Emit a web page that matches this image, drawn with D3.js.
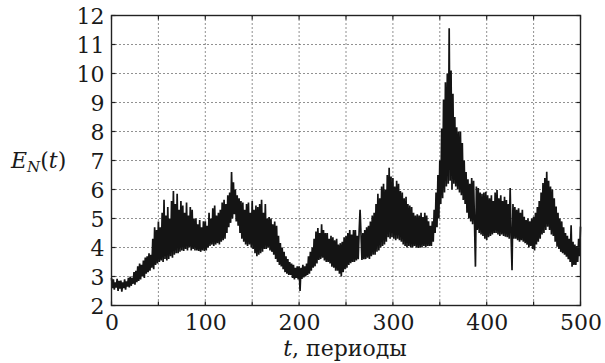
<!DOCTYPE html>
<html>
<head>
<meta charset="utf-8">
<script src="https://cdn.jsdelivr.net/npm/d3@7"></script>
<style>
  html, body { margin: 0; padding: 0; background: #fff; }
  svg { display: block; }
  text { font-family: "DejaVu Serif", serif; fill: #1a1a1a; }
</style>
</head>
<body>
<svg id="chart" width="605" height="363"></svg>
<script>
// Energy E_N(t) sampled once per period, t = 0 … 500
const energy = [
  2.95,2.6,2.9,2.55,2.8,2.62,2.92,2.5,2.85,2.58,
  2.86,2.48,2.8,2.6,2.9,2.55,2.83,2.65,2.95,2.62,
  3.0,2.68,2.95,2.75,3.15,2.72,3.2,2.8,3.35,2.85,
  3.45,2.9,3.4,3.0,3.55,2.95,3.65,3.1,3.7,3.15,
  3.8,3.2,3.75,3.3,4.3,3.25,4.7,3.4,4.6,3.45,
  4.9,3.5,4.7,3.55,5.2,3.5,5.65,3.6,5.1,3.55,
  5.4,3.6,5.0,3.7,5.6,3.65,5.95,3.75,5.5,3.8,
  5.85,3.8,5.3,3.85,5.6,3.9,5.45,3.88,5.2,3.95,
  5.55,3.9,5.1,4.0,5.4,3.9,5.3,3.95,5.0,3.9,
  5.0,3.9,4.8,3.88,4.95,3.85,4.7,3.9,4.9,3.88,
  4.9,3.9,4.75,4.0,5.2,4.05,5.0,4.1,5.35,4.05,
  5.45,4.1,5.1,4.15,5.2,4.1,5.3,4.2,5.55,4.25,
  5.65,4.3,5.5,4.5,5.8,4.7,5.9,4.85,6.6,5.0,
  6.25,5.15,6.0,4.9,5.8,4.75,5.7,4.5,5.6,4.3,
  5.55,4.2,5.3,4.1,5.5,4.05,5.55,4.1,5.2,4.0,
  5.6,3.95,5.3,3.8,5.45,3.7,5.4,3.75,5.5,3.8,
  5.65,3.85,5.2,3.95,5.5,3.95,5.0,4.0,5.05,3.9,
  5.0,3.85,4.8,3.75,4.9,3.6,4.75,3.5,4.4,3.4,
  4.15,3.35,4.0,3.25,3.85,3.15,3.7,3.1,3.6,3.05,
  3.5,3.05,3.45,2.95,3.4,2.9,3.3,2.95,3.35,2.9,
  3.35,2.5,3.3,2.92,3.4,2.97,3.35,3.0,3.45,3.05,
  3.7,3.1,3.85,3.2,4.0,3.3,4.3,3.35,4.55,3.45,
  4.67,3.57,4.5,3.6,4.8,3.65,4.6,3.55,4.5,3.5,
  4.5,3.5,4.3,3.45,4.4,3.34,4.35,3.3,4.25,3.2,
  4.3,3.2,4.1,3.1,4.15,3.0,4.2,3.15,4.35,3.25,
  4.4,3.3,4.5,3.4,4.6,3.46,4.45,3.5,4.6,3.5,
  4.6,3.55,4.4,3.6,4.55,5.3,4.45,3.57,4.5,3.6,
  4.6,3.6,4.7,3.65,4.75,3.6,4.9,3.7,5.1,3.75,
  5.2,3.75,5.5,3.85,5.85,3.9,5.7,4.0,6.1,4.05,
  6.2,4.1,6.0,4.2,6.5,4.35,6.75,4.3,6.45,4.35,
  6.4,4.3,6.1,4.25,6.3,4.3,6.2,4.25,5.95,4.2,
  5.9,4.1,5.7,4.05,5.75,4.0,5.5,4.05,5.45,4.0,
  5.4,4.0,5.2,4.05,5.1,4.0,5.15,3.98,5.1,4.0,
  5.2,4.0,5.05,4.05,5.2,4.0,5.1,4.05,4.9,4.05,
  4.75,4.05,4.9,4.2,5.3,4.5,5.9,4.7,6.5,5.0,
  7.0,5.5,8.1,5.7,9.1,5.9,9.7,6.1,10.0,6.2,
  11.56,6.3,10.1,6.0,9.3,6.2,8.5,6.1,8.15,6.0,
  8.0,5.9,8.0,5.8,7.6,5.64,7.0,5.5,6.6,5.2,
  6.35,5.0,6.2,4.9,6.4,4.8,6.3,4.85,3.34,6.1,
  4.6,6.05,4.5,5.9,4.45,5.85,4.4,5.9,4.3,5.92,
  4.26,5.8,4.35,5.7,4.4,5.8,4.45,5.6,4.5,5.9,
  4.5,5.98,4.45,5.7,4.4,5.8,4.45,5.6,4.4,5.75,
  4.37,5.64,4.35,5.5,4.3,6.05,4.4,3.22,5.5,4.3,
  5.4,4.3,5.3,4.25,5.35,4.2,5.2,4.25,5.3,4.2,
  5.06,4.15,4.95,4.1,5.0,4.0,4.9,4.05,5.0,3.95,
  5.06,3.9,5.2,4.1,5.4,4.2,5.6,4.3,5.9,4.45,
  6.22,4.5,6.4,4.6,6.61,4.72,6.3,4.6,6.1,4.45,
  6.0,4.4,5.7,4.2,5.41,4.03,5.2,3.95,5.0,3.85,
  4.9,3.8,4.7,3.75,4.5,3.68,4.4,3.6,4.3,3.5,
  4.77,3.34,4.2,3.4,4.1,3.4,4.05,3.5,4.3,3.7,4.72
];
const periods = energy.map((_, i) => i);

const xTickValues = [0, 100, 200, 300, 400, 500];
const xGridValues = [50, 100, 150, 200, 250, 300, 350, 400, 450];
const yTickValues = [2, 3, 4, 5, 6, 7, 8, 9, 10, 11, 12];

const svg = d3.select("#chart");
const margin = { left: 111.5, right: 24.5, top: 15.5, bottom: 57.5 };
const W = 605, H = 363;
const innerW = W - margin.left - margin.right;
const innerH = H - margin.top - margin.bottom;

const x = d3.scaleLinear().domain([0, 500]).range([0, innerW]);
const y = d3.scaleLinear().domain([2, 12]).range([innerH, 0]);

const g = svg.append("g").attr("transform", `translate(${margin.left},${margin.top})`);

// dotted grid
const grid = g.append("g").attr("stroke", "#222").attr("stroke-width", 1)
  .attr("stroke-dasharray", "1,3");
grid.selectAll(".vg").data(xGridValues).join("line")
  .attr("x1", d => x(d)).attr("x2", d => x(d))
  .attr("y1", 0).attr("y2", innerH);
grid.selectAll(".hg").data(yTickValues.slice(1, -1)).join("line")
  .attr("x1", 0).attr("x2", innerW)
  .attr("y1", d => y(d)).attr("y2", d => y(d));

// the signal
const line = d3.line().x((d, i) => x(periods[i])).y(d => y(d));
g.append("path")
  .datum(energy)
  .attr("fill", "none")
  .attr("stroke", "#141414")
  .attr("stroke-width", 1.7)
  .attr("stroke-linejoin", "miter")
  .attr("d", line);

// inward ticks on all four sides
const tickLen = 4;
const allX = [0].concat(xGridValues, [500]);
const ticks = g.append("g").attr("stroke", "#222").attr("stroke-width", 1.2);
ticks.selectAll(".tb").data(allX).join("line")
  .attr("x1", d => x(d)).attr("x2", d => x(d)).attr("y1", innerH).attr("y2", innerH - tickLen);
ticks.selectAll(".tt").data(allX).join("line")
  .attr("x1", d => x(d)).attr("x2", d => x(d)).attr("y1", 0).attr("y2", tickLen);
ticks.selectAll(".tl").data(yTickValues).join("line")
  .attr("x1", 0).attr("x2", tickLen).attr("y1", d => y(d)).attr("y2", d => y(d));
ticks.selectAll(".tr").data(yTickValues).join("line")
  .attr("x1", innerW).attr("x2", innerW - tickLen).attr("y1", d => y(d)).attr("y2", d => y(d));

// frame
g.append("rect").attr("x", 0).attr("y", 0).attr("width", innerW).attr("height", innerH)
  .attr("fill", "none").attr("stroke", "#222").attr("stroke-width", 1.4);

// tick labels via axes (lines hidden, labels kept)
const xAxis = g.append("g").attr("transform", `translate(0,${innerH})`)
  .call(d3.axisBottom(x).tickValues(xTickValues).tickSize(0).tickPadding(8).tickFormat(d3.format("d")));
const yAxis = g.append("g")
  .call(d3.axisLeft(y).tickValues(yTickValues).tickSize(0).tickPadding(7).tickFormat(d3.format("d")));
[xAxis, yAxis].forEach(a => {
  a.attr("font-family", null).attr("font-size", null);
  a.select(".domain").remove();
  a.selectAll("text").style("font-family", "'DejaVu Serif', serif")
    .style("font-size", "22px").attr("fill", "#1a1a1a");
});
xAxis.selectAll("text").attr("dy", "0.74em");
yAxis.selectAll("text").attr("dy", "0.36em");

// axis titles
const yl = svg.append("text").attr("x", 11).attr("y", 168).style("font-size", "22px");
yl.append("tspan").attr("font-style", "italic").text("E");
yl.append("tspan").attr("font-style", "italic").style("font-size", "15px").attr("dy", 4).text("N");
yl.append("tspan").attr("dy", -4).text("(");
yl.append("tspan").attr("font-style", "italic").text("t");
yl.append("tspan").text(")");

const xl = svg.append("text").attr("x", margin.left + innerW / 2 - 1).attr("y", 356)
  .attr("text-anchor", "middle").style("font-size", "22px");
xl.append("tspan").attr("font-style", "italic").text("t");
xl.append("tspan").text(", периоды");
</script>
</body>
</html>
